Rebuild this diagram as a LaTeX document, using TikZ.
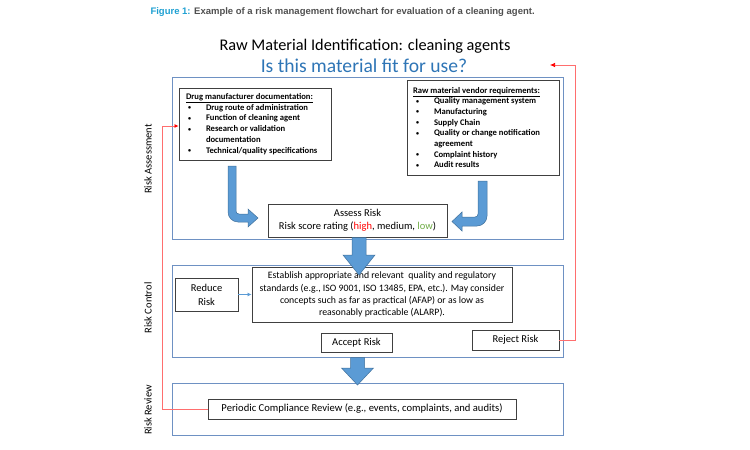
\documentclass[tikz,border=0pt]{standalone}
\usepackage{fontspec}
\setmainfont{Carlito}
\newfontfamily\capfont{Liberation Sans}
\usetikzlibrary{arrows.meta,calc}
\definecolor{boxblue}{RGB}{110,145,195}
\definecolor{arrfill}{RGB}{91,155,213}
\definecolor{arredge}{RGB}{65,113,156}
\definecolor{titleblue}{RGB}{46,117,182}
\definecolor{capblue}{RGB}{30,160,210}
\definecolor{capgray}{RGB}{80,80,80}
\definecolor{lred}{RGB}{255,110,110}
\definecolor{lowgreen}{RGB}{112,173,71}
\newcommand{\smb}{\raisebox{0.5pt}{\fontsize{6}{6}\selectfont\textbullet}}
\newcommand{\bulA}{\makebox[20pt][l]{\hspace*{2pt}\smb}}
\newcommand{\bulB}{\makebox[21pt][l]{\hspace*{3pt}\smb}}
\begin{document}
\begin{tikzpicture}[x=1pt,y=-1pt,
  stage/.style={draw=boxblue, line width=0.8pt, minimum width=391pt, inner sep=0pt},
  tbox/.style={draw=black!75, line width=0.9pt, fill=white, inner sep=0pt, align=center},
  fat/.style={fill=arrfill, draw=arredge, line width=0.5pt},
  redline/.style={draw=lred, line width=0.7pt},
  side/.style={rotate=90, font=\fontsize{10.5}{12}\selectfont}]
\useasboundingbox (0,0) rectangle (750,450);

% caption and titles
\node[anchor=west, font=\capfont\bfseries\fontsize{9.5}{11}\selectfont] (cap) at (147,12)
  {\textcolor{capblue}{Figure 1:} \textcolor{capgray}{Example of a risk management flowchart for evaluation of a cleaning agent.}};
\node[font=\fontsize{16.3}{19}\selectfont] (title) at (365,46) {Raw Material Identification: cleaning agents};
\node[font=\fontsize{19.6}{22}\selectfont, text=titleblue] (sub) at (364,66) {Is this material fit for use?};

% stage boxes
\node[stage, minimum height=162pt] (ra) at (367.5,158) {};
\node[stage, minimum height=92pt] (rc) at (367.5,311) {};
\node[stage, minimum height=52pt] (rr) at (367.5,409) {};

\node[side] (lra) at (148,159) {Risk Assessment};
\node[side] (lrc) at (148,308) {Risk Control};
\node[side] (lrr) at (148,410) {Risk Review};

% assessment boxes
\node[tbox, minimum width=152pt, minimum height=72pt] (drug) at (255,124)
 {\parbox{138pt}{\fontsize{8.6}{10.8}\selectfont\bfseries
  \underline{Drug manufacturer documentation:}\\
  \bulA Drug route of administration\\
  \bulA Function of cleaning agent\\
  \bulA Research or validation\\
  \hspace*{20pt}documentation\\
  \bulA Technical/quality specifications}};

\node[tbox, minimum width=152pt, minimum height=95pt] (vendor) at (483,127.5)
 {\parbox{140pt}{\fontsize{8.6}{10.7}\selectfont\bfseries
  \underline{Raw material vendor requirements:}\\
  \bulB Quality management system\\
  \bulB Manufacturing\\
  \bulB Supply Chain\\
  \bulB Quality or change notification\\
  \hspace*{21pt}agreement\\
  \bulB Complaint history\\
  \bulB Audit results}};

\node[tbox, minimum width=179pt, minimum height=33pt, font=\fontsize{10.5}{13.3}\selectfont] (assess) at (357.5,220.5)
 {Assess Risk\\Risk score rating (\textcolor{red}{high}, medium, \textcolor{lowgreen}{low})};

% control boxes
\node[tbox, minimum width=63pt, minimum height=33pt, font=\fontsize{10.5}{14}\selectfont] (reduce) at (206.5,294.5) {Reduce\\Risk};
\node[tbox, minimum width=260pt, minimum height=55pt, font=\fontsize{9.8}{12.2}\selectfont] (establish) at (382,294.5)
 {Establish appropriate and relevant\ \ quality and regulatory\\
  standards (e.g., ISO 9001, ISO 13485, EPA, etc.). May consider\\
  concepts such as far as practical (AFAP) or as low as\\
  reasonably practicable (ALARP).};
\node[tbox, minimum width=71pt, minimum height=19pt, font=\fontsize{10.5}{12}\selectfont] (accept) at (356.5,342.5) {Accept Risk};
\node[tbox, minimum width=87pt, minimum height=20pt, font=\fontsize{10.5}{12}\selectfont] (reject) at (515.5,340) {Reject Risk};

% review box
\node[tbox, minimum width=308pt, minimum height=20pt, font=\fontsize{10.6}{12}\selectfont] (periodic) at (362,409)
 {Periodic Compliance Review (e.g., events, complaints, and audits)};

% fat curved arrows
\draw[fat] (228,166) -- (236,166) -- (236,211) .. controls (236,212.7) and (237.3,214) .. (239,214)
  -- (248,214) -- (248,209) -- (258,218) -- (248,227) -- (248,222) -- (238,222)
  .. controls (232.5,222) and (228,217.5) .. (228,212) -- cycle;
\draw[fat] (478,181) -- (487,181) -- (487,216) .. controls (487,221.5) and (482.5,226) .. (477,226)
  -- (462,226) -- (462,231) -- (452,221.5) -- (462,212) -- (462,217) -- (475,217)
  .. controls (476.7,217) and (478,215.7) .. (478,214) -- cycle;

% fat down arrows
\draw[fat] (352,237.5) -- (366,237.5) -- (366,255) -- (375,255) -- (359,275) -- (343,255) -- (352,255) -- cycle;
\draw[fat] (350.5,357.5) -- (364.5,357.5) -- (364.5,368) -- (373.5,368) -- (357.5,385) -- (341.5,368) -- (350.5,368) -- cycle;

% small arrow
\draw[draw=arrfill, line width=0.8pt, -{Latex[length=4pt,width=4pt]}] (reduce.east) -- (establish.west);

% red feedback lines
\coordinate (redend) at (550,65);
\draw[redline, -{Latex[length=5pt,width=4.5pt,color=red]}] (reject.east) -- ++(16,0) |- (redend);
\draw[redline, -{Latex[length=4pt,width=4pt,color=red]}] (periodic.west) -- ++(-45,0) |- ([yshift=-2pt]drug.west);
\end{tikzpicture}
\end{document}
